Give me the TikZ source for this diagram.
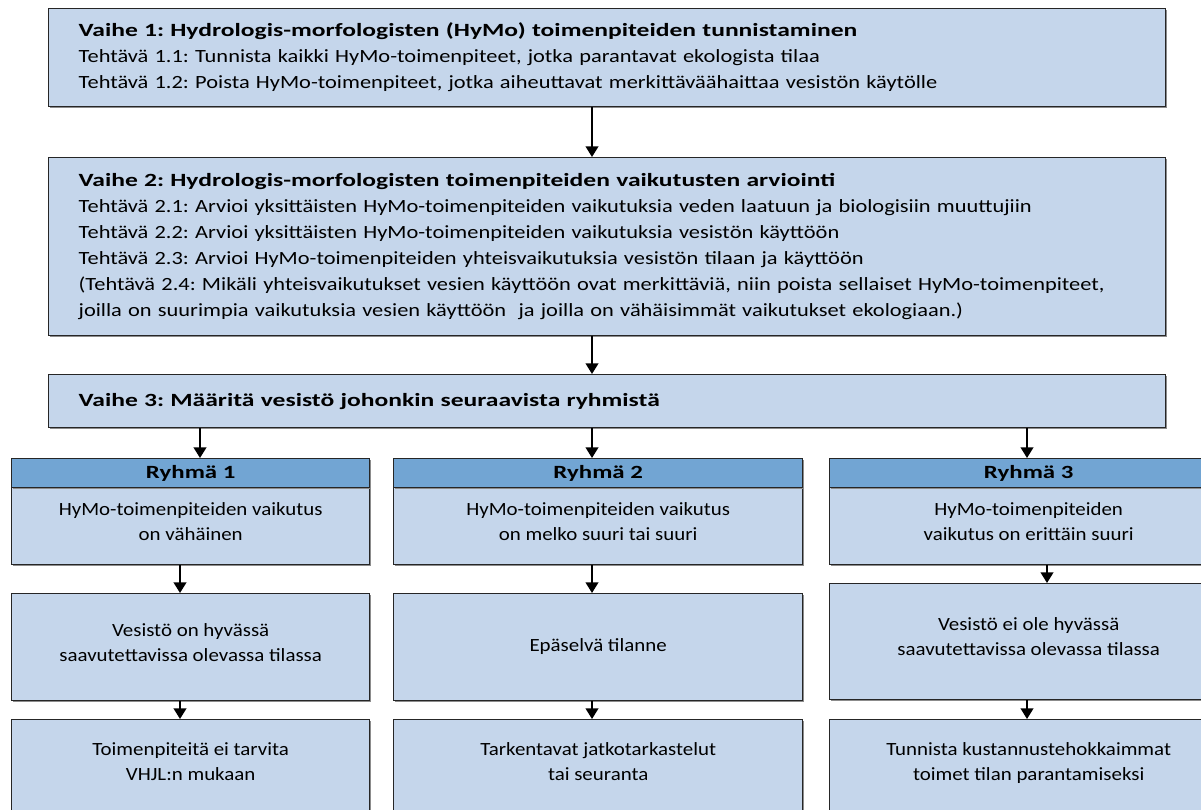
\documentclass[tikz,border=0pt]{standalone}
\usepackage{fontspec}
\setmainfont{Carlito}[FakeStretch=1.12, BoldFeatures={FakeStretch=1.33}]
\newfontfamily\stagefont{Carlito}[FakeStretch=1.2, BoldFeatures={FakeStretch=1.37}]
\usetikzlibrary{arrows.meta,shadows}
\definecolor{paleblue}{HTML}{C5D6EB}
\definecolor{headblue}{HTML}{72A5D3}
\definecolor{edgegray}{HTML}{262626}
\frenchspacing

\begin{document}
\begin{tikzpicture}[x=0.75pt,y=-0.75pt,
  box/.style={draw=edgegray, line width=1pt, fill=paleblue, rectangle, inner sep=0pt,
    anchor=north west,
    drop shadow={shadow xshift=0.9pt, shadow yshift=-0.9pt, fill=black!45, opacity=1}},
  stagebox/.style={box, minimum width=837.75pt, text width=792.75pt, align=left,
    font=\stagefont\fontsize{14}{19.5}\selectfont},
  groupbox/.style={box, align=center, font=\fontsize{14}{18.75}\selectfont,
    execute at begin node={\rule{0pt}{13pt}},
    execute at end node={\rule[-7pt]{0pt}{0pt}}},
  headbox/.style={box, fill=headblue, minimum height=21.75pt, align=center,
    font=\fontsize{14}{18.75}\selectfont\bfseries},
  arr/.style={-{Triangle[width=9.5pt,length=8pt]}, line width=1.5pt, draw=black}
]
\useasboundingbox (0,0) rectangle (1201,809);
\fill[white] (0,0) rectangle (1201,809);
\clip (0,0) rectangle (1201,809);

% x positions of the vertical connectors
\coordinate (xmain) at (592,0);
\coordinate (xg1top) at (200,0);
\coordinate (xg1) at (180,0);
\coordinate (xg2) at (592,0);
\coordinate (xg3top) at (1027,0);
\coordinate (xg3mid) at (1047,0);

% stages
\node[stagebox, minimum height=73.5pt] (v1) at (48,8) {%
  \textbf{Vaihe 1: Hydrologis-morfologisten (HyMo) toimenpiteiden tunnistaminen}\\
  Tehtävä 1.1: Tunnista kaikki HyMo-toimenpiteet, jotka parantavat ekologista tilaa\\
  Tehtävä 1.2: Poista HyMo-toimenpiteet, jotka aiheuttavat merkittäväähaittaa vesistön käytölle};

\node[stagebox, minimum height=133.5pt] (v2) at (48,157) {%
  \textbf{Vaihe 2: Hydrologis-morfologisten toimenpiteiden vaikutusten arviointi}\\
  Tehtävä 2.1: Arvioi yksittäisten HyMo-toimenpiteiden vaikutuksia veden laatuun ja biologisiin muuttujiin\\
  Tehtävä 2.2: Arvioi yksittäisten HyMo-toimenpiteiden vaikutuksia vesistön käyttöön\\
  Tehtävä 2.3: Arvioi HyMo-toimenpiteiden yhteisvaikutuksia vesistön tilaan ja käyttöön\\
  (Tehtävä 2.4: Mikäli yhteisvaikutukset vesien käyttöön ovat merkittäviä, niin poista sellaiset HyMo-toimenpiteet,\\
  joilla on suurimpia vaikutuksia vesien käyttöön\ \ ja joilla on vähäisimmät vaikutukset ekologiaan.)};

\node[stagebox, minimum height=39.75pt] (v3) at (48,374) {%
  \textbf{Vaihe 3: Määritä vesistö johonkin seuraavista ryhmistä}};

% group 1
\node[groupbox, minimum width=268.5pt, minimum height=57.75pt] (g1a) at (11,487)
  {HyMo-toimenpiteiden vaikutus\\on vähäinen};
\node[headbox, minimum width=268.5pt] (h1) at (11,458) {Ryhmä 1};
\node[groupbox, minimum width=268.5pt, minimum height=80.25pt] (g1b) at (11,593)
  {Vesistö on hyvässä\\saavutettavissa olevassa tilassa};
\node[groupbox, minimum width=268.5pt, minimum height=69.75pt] (g1c) at (11,719)
  {Toimenpiteitä ei tarvita\\VHJL:n mukaan};

% group 2
\node[groupbox, minimum width=306.75pt, minimum height=57.75pt] (g2a) at (393,487)
  {HyMo-toimenpiteiden vaikutus\\on melko suuri tai suuri};
\node[headbox, minimum width=306.75pt] (h2) at (393,458) {Ryhmä 2};
\node[groupbox, minimum width=306.75pt, minimum height=80.25pt] (g2b) at (393,593)
  {Epäselvä tilanne};
\node[groupbox, minimum width=306.75pt, minimum height=69.75pt] (g2c) at (393,719)
  {Tarkentavat jatkotarkastelut\\tai seuranta};

% group 3
\node[groupbox, minimum width=298.5pt, minimum height=57.75pt] (g3a) at (829,487)
  {HyMo-toimenpiteiden\\vaikutus on erittäin suuri};
\node[headbox, minimum width=298.5pt] (h3) at (829,458) {Ryhmä 3};
\node[groupbox, minimum width=298.5pt, minimum height=87pt] (g3b) at (829,583)
  {Vesistö ei ole hyvässä\\saavutettavissa olevassa tilassa};
\node[groupbox, minimum width=298.5pt, minimum height=69.75pt] (g3c) at (829,719)
  {Tunnista kustannustehokkaimmat\\toimet tilan parantamiseksi};

% connectors
\draw[arr] (v1.south -| xmain) -- (v2.north -| xmain);
\draw[arr] (v2.south -| xmain) -- (v3.north -| xmain);
\draw[arr] (v3.south -| xg1top) -- (h1.north -| xg1top);
\draw[arr] (v3.south -| xg2) -- (h2.north -| xg2);
\draw[arr] (v3.south -| xg3top) -- (h3.north -| xg3top);
\draw[arr] (g1a.south -| xg1) -- (g1b.north -| xg1);
\draw[arr] (g1b.south -| xg1) -- (g1c.north -| xg1);
\draw[arr] (g2a.south -| xg2) -- (g2b.north -| xg2);
\draw[arr] (g2b.south -| xg2) -- (g2c.north -| xg2);
\draw[arr] (g3a.south -| xg3mid) -- (g3b.north -| xg3mid);
\draw[arr] (g3b.south -| xg3top) -- (g3c.north -| xg3top);
\end{tikzpicture}
\end{document}
